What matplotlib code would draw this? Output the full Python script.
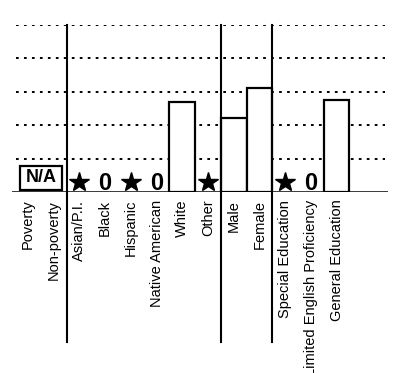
import matplotlib
matplotlib.use("Agg")
import matplotlib.pyplot as plt
from matplotlib.patches import Rectangle

plt.rcParams['font.family'] = ['Liberation Sans', 'DejaVu Sans']

# data
categories = ['Poverty', 'Non-poverty', 'Asian/P.I.', 'Black', 'Hispanic',
              'Native American', 'White', 'Other', 'Male', 'Female',
              'Special Education', 'Limited English Proficiency',
              'General Education']
values = [None, None, None, None, None, None, 2.69, None, 2.22, 3.11,
          None, None, 2.75]
star_cats = ['Asian/P.I.', 'Hispanic', 'Other', 'Special Education']
zero_cats = ['Black', 'Native American', 'Limited English Proficiency']
na_cats = ['Poverty', 'Non-poverty']
group_breaks = [1.5, 7.5, 9.5]
grid_levels = [1, 2, 3, 4, 5]

fig = plt.figure(figsize=(3.95, 3.73), dpi=100)
ax = fig.add_axes([12 / 395, 181 / 373, 376 / 395, 167 / 373])
ax.set_xlim(-0.62, 14.0)
ax.set_ylim(0, 5)

pos = list(range(len(categories)))

# dotted reference lines
ax.hlines(grid_levels, -0.47, 13.9, colors='black', linewidth=1.4,
          linestyles=(0, (1.4, 2.7)), zorder=1)

# bars
bx = [p for p, v in zip(pos, values) if v is not None]
bv = [v for v in values if v is not None]
ax.bar(bx, bv, width=1.0, facecolor='white', edgecolor='black',
       linewidth=1.6, zorder=2)

# stars and zeros
sx = [categories.index(c) for c in star_cats]
ax.plot(sx, [0.31] * len(sx), linestyle='none', marker='*', color='black',
        markersize=15, zorder=3)
for c in zero_cats:
    ax.text(categories.index(c), 0.06, '0', fontsize=17, fontweight='bold',
            ha='center', va='baseline', zorder=3)

# N/A box
i0 = categories.index(na_cats[0])
i1 = categories.index(na_cats[-1])
ax.add_patch(Rectangle((i0 - 0.31, 0.06), (i1 - i0) + 0.63, 0.72,
                       facecolor='white', edgecolor='black', linewidth=1.6,
                       zorder=3))
ax.text((i0 + i1) / 2, 0.42, 'N/A', fontsize=13, fontweight='bold',
        ha='center', va='center', zorder=4)

# group separators
for b in group_breaks:
    ax.plot([b, b], [5, -4.5], color='black', linewidth=1.5, clip_on=False,
            zorder=4)

ax.axhline(0, color='black', linewidth=1.8, zorder=5)

for s in ax.spines.values():
    s.set_visible(False)
ax.set_yticks([])
ax.set_xticks(pos)
ax.set_xticklabels(categories, rotation=90, fontsize=10.5, va='top',
                   ha='center')
ax.tick_params(axis='x', length=0, pad=5.5)

fig.savefig('out.png', dpi=100)
